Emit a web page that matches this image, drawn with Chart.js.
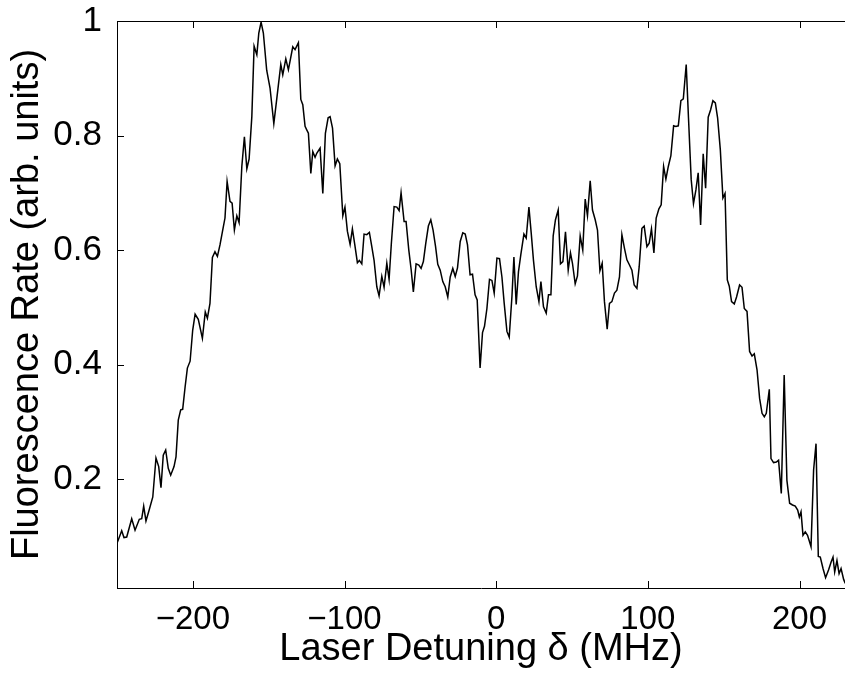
<!DOCTYPE html>
<html>
<head>
<meta charset="utf-8">
<script src="https://cdn.jsdelivr.net/npm/chart.js@4"></script>
<style>
  body { margin: 0; background: #fff; }
  #wrap { width: 845px; height: 673px; position: relative; }
</style>
</head>
<body>
<div id="wrap"><canvas id="myChart"></canvas></div>
<script>
const detuning = [
  -250.0, -246.9, -245.4, -243.6, -240.3, -238.1, -235.3, -233.7, -232.4, -230.9,
  -228.7, -226.4, -224.3, -222.5, -221.0, -219.5, -217.9, -216.2, -214.6, -212.4,
  -211.1, -209.6, -208.0, -206.7, -205.1, -203.6, -201.8, -200.1, -198.5, -196.4,
  -193.7, -191.8, -190.4, -188.7, -187.1, -185.4, -183.8, -182.1, -180.3, -178.8,
  -177.4, -175.5, -174.1, -172.6, -171.0, -169.5, -167.7, -166.0, -164.4, -162.9,
  -161.1, -159.6, -157.8, -156.5, -155.0, -153.5, -151.3, -149.1, -146.6, -144.7,
  -142.0, -140.7, -138.7, -137.0, -135.9, -134.1, -132.6, -130.4, -128.8, -127.5,
  -126.0, -124.9, -123.8, -122.2, -120.9, -119.4, -118.3, -116.1, -114.3, -112.6,
  -110.8, -109.5, -107.9, -106.2, -104.7, -103.1, -101.1, -99.7, -98.1, -96.3,
  -94.8, -93.2, -91.5, -90.2, -88.6, -87.1, -85.3, -83.6, -82.0, -80.5,
  -78.7, -77.2, -75.4, -73.9, -72.1, -70.6, -69.1, -67.3, -65.5, -64.0,
  -62.7, -60.7, -59.4, -57.6, -56.1, -54.6, -52.8, -51.0, -49.5, -48.0,
  -46.4, -44.7, -43.1, -41.6, -40.0, -38.5, -36.9, -35.2, -33.6, -31.9,
  -30.3, -28.6, -27.0, -25.5, -23.7, -22.0, -20.4, -18.9, -17.2, -15.6,
  -13.9, -12.5, -10.6, -9.0, -7.7, -6.1, -4.4, -2.8, -1.3, 0.5,
  2.2, 3.8, 5.3, 7.1, 8.6, 10.4, 11.7, 13.2, 14.7, 16.3,
  18.3, 19.8, 21.6, 23.1, 24.6, 26.4, 28.2, 29.5, 31.2, 33.0,
  34.5, 36.1, 37.6, 39.1, 40.9, 42.4, 44.0, 45.7, 47.5, 49.0,
  50.3, 52.1, 53.6, 55.4, 57.1, 58.7, 60.2, 62.0, 63.5, 65.3,
  66.8, 68.4, 69.9, 71.4, 73.2, 74.7, 76.3, 78.0, 79.6, 81.3,
  82.9, 84.6, 86.2, 87.9, 89.5, 91.0, 92.8, 94.3, 96.1, 97.6,
  99.4, 100.9, 102.4, 104.0, 105.5, 107.3, 108.8, 110.4, 111.9, 113.5,
  115.2, 117.0, 118.5, 120.1, 121.8, 123.4, 125.3, 126.8, 128.6, 130.1,
  131.7, 133.2, 134.8, 136.5, 138.1, 139.8, 141.4, 142.9, 144.5, 146.0,
  147.8, 149.5, 150.9, 152.4, 153.7, 155.2, 157.0, 158.5, 160.5, 162.1,
  163.6, 165.4, 167.1, 168.7, 170.2, 172.0, 173.7, 175.3, 176.8, 178.1,
  180.1, 181.2, 182.9, 184.7, 186.2, 188.0, 189.9, 191.7, 193.5, 195.4,
  197.2, 198.8, 199.9, 201.0, 202.3, 203.8, 205.3, 207.6, 209.3, 210.9,
  212.4, 213.7, 215.5, 217.2, 219.2, 220.8, 222.1, 223.2, 224.7, 226.1,
  227.4, 229.1, 230.2
]
const rate = [
  0.088, 0.110, 0.098, 0.099, 0.131, 0.111, 0.130, 0.131, 0.153, 0.127,
  0.147, 0.169, 0.237, 0.222, 0.185, 0.242, 0.251, 0.219, 0.207, 0.222,
  0.239, 0.303, 0.321, 0.322, 0.361, 0.394, 0.406, 0.460, 0.488, 0.479,
  0.446, 0.492, 0.481, 0.507, 0.587, 0.597, 0.589, 0.609, 0.635, 0.656,
  0.720, 0.685, 0.682, 0.635, 0.660, 0.648, 0.746, 0.798, 0.742, 0.759,
  0.833, 0.956, 0.941, 0.979, 0.998, 0.979, 0.914, 0.883, 0.821, 0.863,
  0.924, 0.906, 0.934, 0.915, 0.930, 0.955, 0.950, 0.962, 0.863, 0.854,
  0.816, 0.810, 0.804, 0.734, 0.772, 0.762, 0.769, 0.778, 0.699, 0.804,
  0.831, 0.833, 0.813, 0.747, 0.759, 0.751, 0.660, 0.675, 0.633, 0.610,
  0.637, 0.609, 0.578, 0.582, 0.576, 0.628, 0.627, 0.631, 0.606, 0.582,
  0.536, 0.520, 0.554, 0.535, 0.577, 0.549, 0.612, 0.676, 0.675, 0.669,
  0.700, 0.650, 0.650, 0.600, 0.567, 0.527, 0.576, 0.574, 0.568, 0.580,
  0.612, 0.642, 0.653, 0.635, 0.607, 0.575, 0.565, 0.545, 0.536, 0.518,
  0.553, 0.568, 0.554, 0.569, 0.615, 0.630, 0.628, 0.609, 0.557, 0.558,
  0.522, 0.513, 0.394, 0.456, 0.467, 0.498, 0.549, 0.547, 0.525, 0.586,
  0.585, 0.553, 0.507, 0.458, 0.448, 0.519, 0.588, 0.505, 0.562, 0.593,
  0.628, 0.621, 0.675, 0.630, 0.582, 0.536, 0.510, 0.545, 0.501, 0.490,
  0.522, 0.522, 0.625, 0.653, 0.670, 0.576, 0.580, 0.632, 0.565, 0.595,
  0.577, 0.541, 0.555, 0.625, 0.600, 0.689, 0.660, 0.721, 0.670, 0.653,
  0.635, 0.564, 0.577, 0.510, 0.462, 0.507, 0.510, 0.525, 0.530, 0.553,
  0.627, 0.603, 0.583, 0.574, 0.565, 0.539, 0.533, 0.571, 0.638, 0.642,
  0.606, 0.612, 0.637, 0.595, 0.656, 0.672, 0.679, 0.746, 0.724, 0.746,
  0.765, 0.817, 0.816, 0.817, 0.861, 0.864, 0.924, 0.831, 0.723, 0.681,
  0.705, 0.735, 0.644, 0.768, 0.708, 0.832, 0.845, 0.861, 0.857, 0.831,
  0.775, 0.691, 0.699, 0.548, 0.537, 0.510, 0.506, 0.518, 0.539, 0.535,
  0.498, 0.493, 0.423, 0.415, 0.419, 0.391, 0.341, 0.315, 0.309, 0.315,
  0.357, 0.236, 0.229, 0.230, 0.233, 0.175, 0.382, 0.198, 0.158, 0.155,
  0.153, 0.146, 0.134, 0.143, 0.102, 0.108, 0.102, 0.082, 0.216, 0.262,
  0.065, 0.064, 0.044, 0.028, 0.042, 0.055, 0.064, 0.038, 0.058, 0.035,
  0.044, 0.025, 0.018
]
const xTicks = [-200, -100, 0, 100, 200]
const yTicks = [0.2, 0.4, 0.6, 0.8, 1]

const points = []
for (let i = 0; i < detuning.length; i++) {
  points.push({ x: detuning[i], y: rate[i] })
}

// matlab style box: ticks point inward, top edge drawn too
const boxTicks = {
  id: 'boxTicks',
  afterDraw(chart) {
    const c = chart.ctx
    const area = chart.chartArea
    const xs = chart.scales.x
    const ys = chart.scales.y
    c.save()
    c.strokeStyle = '#000'
    c.lineWidth = 1
    c.beginPath()
    c.moveTo(area.left, area.top + 0.5)
    c.lineTo(area.right, area.top + 0.5)
    for (const t of xTicks) {
      const px = Math.round(xs.getPixelForValue(t)) + 0.5
      c.moveTo(px, area.bottom)
      c.lineTo(px, area.bottom - 7)
      c.moveTo(px, area.top)
      c.lineTo(px, area.top + 7)
    }
    for (const t of yTicks) {
      const py = Math.round(ys.getPixelForValue(t)) + 0.5
      c.moveTo(area.left, py)
      c.lineTo(area.left + 7, py)
    }
    c.stroke()
    c.restore()
  }
}

new Chart(document.getElementById('myChart'), {
  type: 'line',
  data: {
    datasets: [{
      data: points,
      borderColor: '#000',
      borderWidth: 1.5,
      pointRadius: 0,
      tension: 0,
      fill: false
    }]
  },
  options: {
    responsive: true,
    maintainAspectRatio: false,
    animation: false,
    devicePixelRatio: 1,
    layout: { padding: { top: 21, right: 0, bottom: 0, left: 0 } },
    plugins: {
      legend: { display: false },
      tooltip: { enabled: false }
    },
    scales: {
      x: {
        type: 'linear',
        min: -250,
        max: 230,
        afterFit: (scale) => {
          scale.height = 85
          scale.paddingLeft = 0
          scale.paddingRight = 0
        },
        afterBuildTicks: (scale) => { scale.ticks = xTicks.map(v => ({ value: v })) },
        grid: { display: false },
        border: { display: true, color: '#000', width: 1 },
        ticks: {
          color: '#000',
          padding: 4,
          maxRotation: 0,
          font: { family: 'Liberation Sans', size: 33 },
          callback: (v) => v < 0 ? '\u2212' + Math.abs(v) : String(v)
        },
        title: {
          display: true,
          text: 'Laser Detuning \u03b4 (MHz)',
          color: '#000',
          font: { family: 'Liberation Sans', size: 38, lineHeight: 1.2 },
          padding: { top: 0, bottom: 1 }
        }
      },
      y: {
        min: 0.01,
        max: 1,
        afterFit: (scale) => {
          scale.width = 117
          scale.paddingTop = 0
          scale.paddingBottom = 0
        },
        afterBuildTicks: (scale) => { scale.ticks = yTicks.map(v => ({ value: v })) },
        grid: { display: false },
        border: { display: true, color: '#000', width: 1 },
        ticks: {
          color: '#000',
          padding: 7,
          font: { family: 'Liberation Sans', size: 35 },
          callback: (v) => v === 1 ? '1' : v.toFixed(1)
        },
        title: {
          display: true,
          text: 'Fluorescence Rate (arb. units)',
          color: '#000',
          font: { family: 'Liberation Sans', size: 38, lineHeight: 1.2 },
          padding: { top: 5, bottom: 0 }
        }
      }
    }
  },
  plugins: [boxTicks]
})
</script>
</body>
</html>
